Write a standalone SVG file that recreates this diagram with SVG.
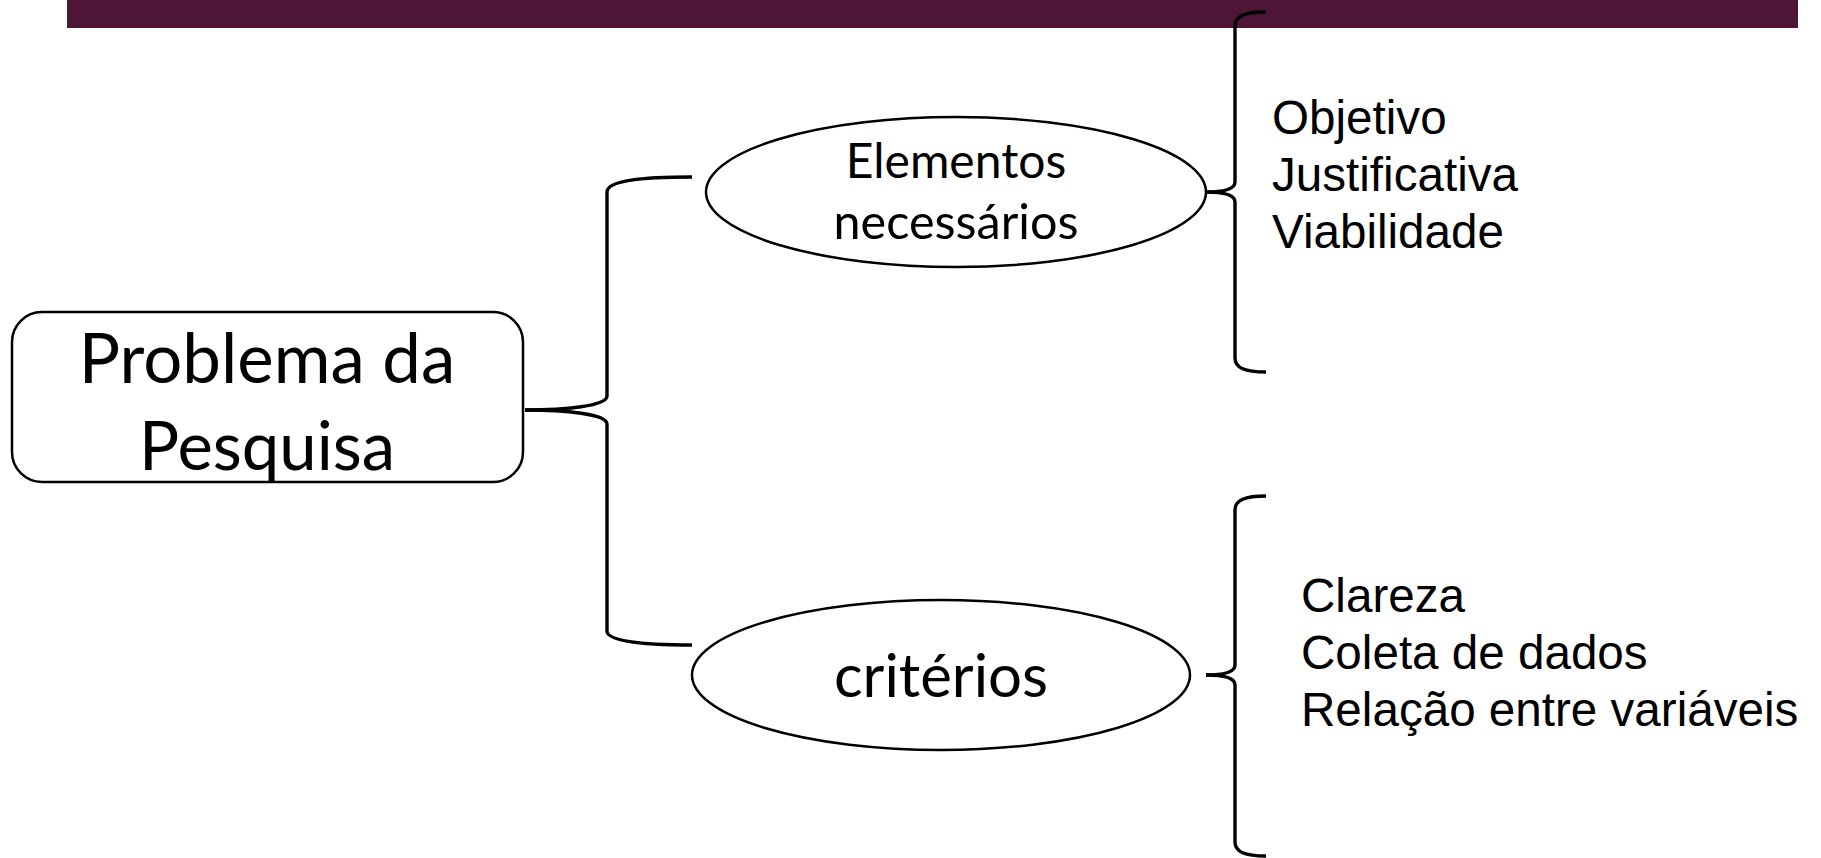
<svg xmlns="http://www.w3.org/2000/svg" width="1821" height="858" viewBox="0 0 1821 858">
<style>
.node{fill:#fff;stroke:#000;stroke-width:2.5}
.gill{font-family:Lato,"Open Sans","Liberation Sans",sans-serif;fill:#000;text-anchor:middle}
.arial{font-family:"Liberation Sans",Arial,sans-serif;fill:#000;font-size:47.6px}
.brace{fill:none;stroke:#000;stroke-width:3.4}
</style>
<rect x="0" y="0" width="1821" height="858" fill="#fff"/>
<rect id="topbar" x="67" y="0" width="1731" height="28" fill="#4D1636"/>
<g id="connectors">
<path class="brace" d="M 525 410 C 565 410, 607 406, 607 396 L 607 192 C 607 181, 640 177, 692 177"/>
<path class="brace" d="M 525 410 C 565 410, 607 414, 607 424 L 607 631 C 607 641, 640 645, 692 645"/>
<path class="brace" d="M 1206 192 C 1222 192, 1235 190, 1235 182 L 1235 26 C 1235 16, 1245 12, 1266 12"/>
<path class="brace" d="M 1206 192 C 1222 192, 1235 194, 1235 202 L 1235 358 C 1235 368, 1245 372, 1266 372"/>
<path class="brace" d="M 1206 675 C 1222 675, 1235 673, 1235 665 L 1235 510 C 1235 500, 1245 496, 1266 496"/>
<path class="brace" d="M 1206 675 C 1222 675, 1235 677, 1235 685 L 1235 842 C 1235 852, 1245 856, 1266 856"/>
</g>
<g id="problema">
<rect class="node" x="12" y="312" width="511" height="170" rx="30"/>
<text class="gill" x="267" y="383" font-size="69">Problema da</text>
<text class="gill" x="267" y="470" font-size="67">Pesquisa</text>
</g>
<g id="elementos">
<ellipse class="node" cx="956" cy="192" rx="250" ry="75"/>
<text class="gill" x="956" y="178" font-size="48">Elementos</text>
<text class="gill" x="956" y="239" font-size="48.5">necessários</text>
</g>
<g id="criterios">
<ellipse class="node" cx="941" cy="675" rx="249" ry="75"/>
<text class="gill" x="941" y="697" font-size="60">critérios</text>
</g>
<g id="lista1">
<text class="arial" x="1272" y="134">Objetivo</text>
<text class="arial" x="1272" y="191">Justificativa</text>
<text class="arial" x="1272" y="248">Viabilidade</text>
</g>
<g id="lista2">
<text class="arial" x="1301" y="612">Clareza</text>
<text class="arial" x="1301" y="669">Coleta de dados</text>
<text class="arial" x="1301" y="726">Relação entre variáveis</text>
</g>
</svg>
